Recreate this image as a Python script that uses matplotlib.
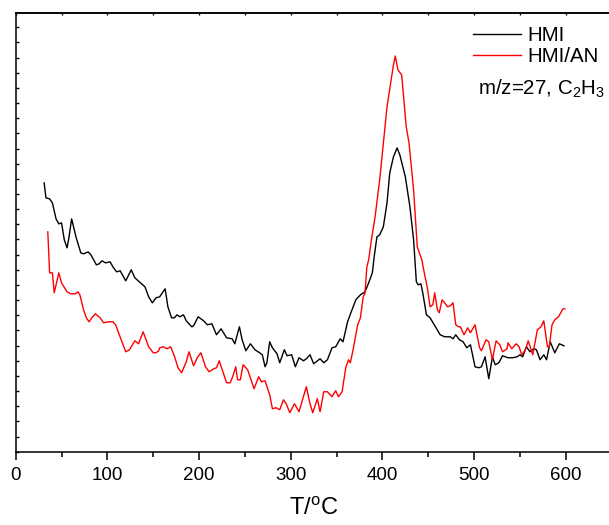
import numpy as np
import matplotlib
matplotlib.use("Agg")
import matplotlib.pyplot as plt
from matplotlib.ticker import MultipleLocator

plt.rcParams.update({'font.family': 'Liberation Sans'})
plt.rcParams.update({'mathtext.fontset': 'custom'})
plt.rcParams.update({'mathtext.rm': 'Liberation Sans'})
plt.rcParams.update({'mathtext.it': 'Liberation Sans:italic'})
plt.rcParams.update({'axes.linewidth': 1.1})

# HMI, m/z=27 ion current (arb. units)
t_hmi = [31, 33, 37, 40, 44, 47, 50, 53, 56, 58, 61, 66, 71, 74, 79, 82, 88, 91, 94, 98,
         103, 106, 110, 114, 120, 126, 130, 136, 141, 145, 149, 153, 157, 163, 166, 170,
         173, 176, 179, 183, 186, 192, 194, 199, 205, 209, 214, 219, 224, 230, 236, 239,
         244, 247, 251, 256, 261, 266, 269, 272, 274, 277, 280, 285, 288, 293, 296, 301,
         305, 309, 314, 317, 321, 325, 332, 336, 340, 345, 349, 354, 357, 362, 366, 371,
         376, 381, 385, 389, 391, 394, 397, 401, 405, 408, 412, 416, 419, 425, 430, 434,
         437, 439, 442, 444, 448, 452, 463, 468, 474, 477, 480, 484, 488, 492, 496, 501,
         505, 508, 512, 516, 520, 523, 527, 531, 537, 542, 547, 550, 553, 557, 561, 565,
         568, 572, 576, 579, 583, 588, 593, 598]
i_hmi = [269, 254, 253, 249, 233, 228, 229, 212, 204, 214, 233, 214, 199, 198, 200, 197,
         187, 188, 191, 189, 190, 185, 180, 181, 171, 182, 174, 169, 165, 155, 149, 154,
         155, 163, 145, 134, 134, 137, 135, 137, 131, 125, 126, 135, 131, 127, 128, 117,
         123, 114, 113, 108, 125, 112, 101, 108, 102, 99, 97, 85, 89, 110, 104, 98, 89,
         102, 96, 97, 85, 94, 91, 93, 97, 88, 93, 89, 92, 104, 105, 113, 110, 130, 140,
         152, 157, 160, 169, 179, 195, 215, 217, 225, 249, 279, 295, 304, 297, 275, 245,
         212, 170, 167, 168, 159, 137, 134, 117, 115, 115, 113, 117, 112, 110, 104, 107,
         85, 84, 85, 95, 73, 95, 87, 89, 96, 94, 94, 95, 97, 95, 105, 100, 103, 102, 92,
         97, 92, 110, 99, 108, 106]

# HMI/AN, m/z=27 ion current (arb. units)
t_an = [35, 37, 40, 42, 47, 50, 56, 60, 65, 68, 70, 74, 77, 80, 83, 87, 92, 96, 101, 106,
        109, 115, 120, 124, 130, 134, 139, 145, 150, 153, 156, 157, 161, 165, 169, 173,
        177, 181, 186, 189, 194, 198, 202, 207, 211, 216, 219, 222, 226, 230, 234, 237,
        240, 242, 245, 248, 253, 260, 265, 268, 272, 277, 280, 284, 288, 292, 295, 299,
        304, 309, 317, 321, 324, 329, 332, 336, 340, 345, 349, 352, 356, 360, 363, 365,
        368, 373, 376, 379, 381, 383, 385, 388, 392, 397, 401, 405, 409, 412, 414, 417,
        421, 426, 429, 434, 438, 443, 445, 449, 452, 455, 457, 460, 462, 465, 467, 471,
        474, 477, 480, 483, 485, 489, 493, 496, 501, 506, 508, 513, 516, 520, 524, 528,
        531, 536, 537, 541, 546, 549, 552, 556, 559, 564, 569, 573, 576, 580, 582, 585,
        588, 592, 597, 599]
i_an = [220, 179, 179, 159, 179, 169, 160, 158, 158, 160, 157, 142, 134, 130, 134, 138,
        134, 129, 130, 130, 127, 112, 100, 102, 111, 108, 120, 105, 99, 99, 101, 104,
        105, 103, 105, 96, 84, 79, 90, 100, 86, 94, 99, 85, 80, 83, 84, 91, 80, 69, 69,
        76, 85, 72, 72, 87, 82, 63, 75, 70, 71, 57, 43, 44, 42, 52, 48, 39, 48, 40, 65,
        48, 39, 53, 40, 60, 60, 55, 61, 55, 60, 84, 92, 89, 102, 127, 134, 155, 159, 185,
        192, 212, 235, 272, 309, 345, 369, 387, 396, 382, 377, 325, 309, 262, 205, 192,
        182, 164, 145, 147, 159, 142, 139, 152, 150, 145, 146, 149, 127, 125, 125, 117,
        124, 119, 127, 104, 101, 112, 110, 92, 111, 107, 100, 103, 109, 103, 108, 105,
        97, 102, 111, 97, 122, 125, 131, 105, 105, 127, 132, 135, 143, 143]

fig = plt.figure(figsize=(6.09, 5.25), dpi=100)
ax = fig.add_axes([0.0258, 0.1396, 0.9785, 0.8362])

ax.plot(t_hmi, i_hmi, color="k", lw=1.0, label="HMI")
ax.plot(t_an, i_an, color="#ff0000", lw=1.0, label="HMI/AN")

ax.set_xlim(0, 650)
ax.set_ylim(0, 439.3)
ax.xaxis.set_major_locator(MultipleLocator(100))
ax.xaxis.set_minor_locator(MultipleLocator(50))
ax.yaxis.set_major_locator(MultipleLocator(15.17))
ax.set_yticklabels([])
ax.tick_params(axis="x", direction="out", length=6, width=1.1, labelsize=13.5, pad=5)
ax.tick_params(axis="x", which="minor", direction="out", length=3.5, width=1.1)
ax.tick_params(axis="y", direction="in", length=2, width=1.0)
ax.spines["right"].set_visible(False)

top = ax.secondary_xaxis("top")
top.xaxis.set_major_locator(MultipleLocator(50))
top.tick_params(direction="in", length=1.5, width=1.0, labeltop=False)

ax.set_xlabel("T/$^{\\rm o}$C", fontsize=17, labelpad=10)

ax.legend(loc="upper left", bbox_to_anchor=(472.7 / 609, 1 - 26 / 525),
          bbox_transform=fig.transFigure, frameon=False, fontsize=14.8,
          handlelength=2.34, handletextpad=0.34, labelspacing=0.1,
          borderpad=0, borderaxespad=0)
fig.text(478.3 / 609, 1 - 95 / 525, "m/z=27, C$_2$H$_3$", fontsize=14.8,
         va="baseline", ha="left")

plt.savefig("out.png", dpi=100)
